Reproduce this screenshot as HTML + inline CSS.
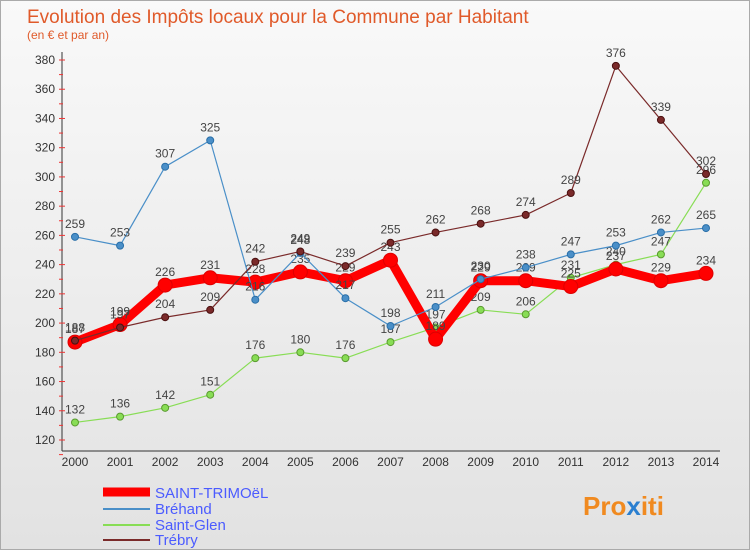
<!DOCTYPE html>
<html><head><meta charset="utf-8"><style>
body{margin:0;background:#fff;}
svg{display:block;font-family:"Liberation Sans",sans-serif;}
</style></head><body>
<svg id="c" width="750" height="550" viewBox="0 0 750 550" xmlns="http://www.w3.org/2000/svg">
<defs><linearGradient id="bg" x1="0" y1="0" x2="0" y2="1"><stop offset="0" stop-color="#f9f9f9"/><stop offset="1" stop-color="#e2e2e2"/></linearGradient></defs>
<rect x="0.5" y="0.5" width="749" height="549" fill="url(#bg)" stroke="#aaa"/>
<text x="27" y="23" font-size="19" fill="#e05a2a">Evolution des Impôts locaux pour la Commune par Habitant</text>
<text x="27" y="39" font-size="12" fill="#e05a2a">(en € et par an)</text>
<g id="axes"></g><g id="series"></g>
<g>
<line x1="103" y1="492" x2="150" y2="492" stroke="#f00" stroke-width="9"/>
<text x="155" y="498" font-size="15" fill="#4b5bff">SAINT-TRIMOëL</text>
<line x1="103" y1="509" x2="150" y2="509" stroke="#4a8fc8" stroke-width="2"/>
<text x="155" y="514" font-size="15" fill="#4b5bff">Bréhand</text>
<line x1="103" y1="525" x2="150" y2="525" stroke="#88dd55" stroke-width="2"/>
<text x="155" y="530" font-size="15" fill="#4b5bff">Saint-Glen</text>
<line x1="103" y1="540" x2="150" y2="540" stroke="#7a2a2a" stroke-width="2"/>
<text x="155" y="545" font-size="15" fill="#4b5bff">Trébry</text>
</g>
<text x="583" y="515" font-size="26" font-weight="bold" fill="#f08a20">Pro<tspan fill="#2a7fd0">x</tspan>iti</text>
</svg>
<script>
const years=[2000,2001,2002,2003,2004,2005,2006,2007,2008,2009,2010,2011,2012,2013,2014];
const yTicks=[120,140,160,180,200,220,240,260,280,300,320,340,360,380];
const saintTrimoel=[187,199,226,231,228,235,229,243,189,229,229,225,237,229,234];
const brehand=[259,253,307,325,216,248,217,198,211,230,238,247,253,262,265];
const saintGlen=[132,136,142,151,176,180,176,187,197,209,206,231,240,247,296];
const trebry=[188,197,204,209,242,249,239,255,262,268,274,289,376,339,302];
const NS="http://www.w3.org/2000/svg";
const xS=i=>75+i*(706-75)/(years.length-1);
const yS=v=>440-(v-120)*(380/260);
function mk(t,a,p){const e=document.createElementNS(NS,t);for(const k in a)e.setAttribute(k,a[k]);p.appendChild(e);return e;}
const ax=document.getElementById('axes');
let yl=mk('line',{x1:62,y1:52,x2:62,y2:451,stroke:'#333'},ax);


let xl=mk('line',{x1:62,y1:451,x2:720,y2:451,stroke:'#333'},ax);


yTicks.forEach(v=>{
 const y=yS(v);
 const tk=mk('line',{x1:59,y1:y,x2:65,y2:y,stroke:'#e33'},ax);
 
 
 const mt=mk('line',{x1:59,y1:y+14.6,x2:63,y2:y+14.6,stroke:'#e33'},ax);
 
 
 const t=mk('text',{x:55,y:y+4,'font-size':12,'text-anchor':'end',fill:'#333'},ax);
 t.textContent=v;
 
 
});
years.forEach((yr,i)=>{
 const t=mk('text',{x:xS(i),y:466,'font-size':12,'text-anchor':'middle',fill:'#333'},ax);
 t.textContent=yr;
 
 
});
const sg=document.getElementById('series');
function draw(arr,name,color,w,r,stroke){
 const g=mk('g',{},sg);
 
 
 const pl=mk('polyline',{points:arr.map((v,i)=>xS(i)+','+yS(v)).join(' '),fill:'none',stroke:color,'stroke-width':w,'stroke-linejoin':'round'},g);
 
 
 arr.forEach((v,i)=>{
  const c=mk('circle',{cx:xS(i),cy:yS(v),r:r,fill:color,stroke:stroke,'stroke-width':1},g);
  
  
  const t=mk('text',{x:xS(i),y:yS(v)-9,'font-size':12,'text-anchor':'middle',fill:'#444'},g);
  t.textContent=v;
  
  
 });
}
draw(saintGlen,'saint-glen','#88dd55',1.2,3.5,'#5a9a30');
draw(saintTrimoel,'saint-trimoel','#f00',9,7,'#d00');
draw(brehand,'brehand','#4a8fc8',1.2,3.5,'#2a6fa8');
draw(trebry,'trebry','#7a2a2a',1.2,3.5,'#4a1010');
</script>
</body></html>
